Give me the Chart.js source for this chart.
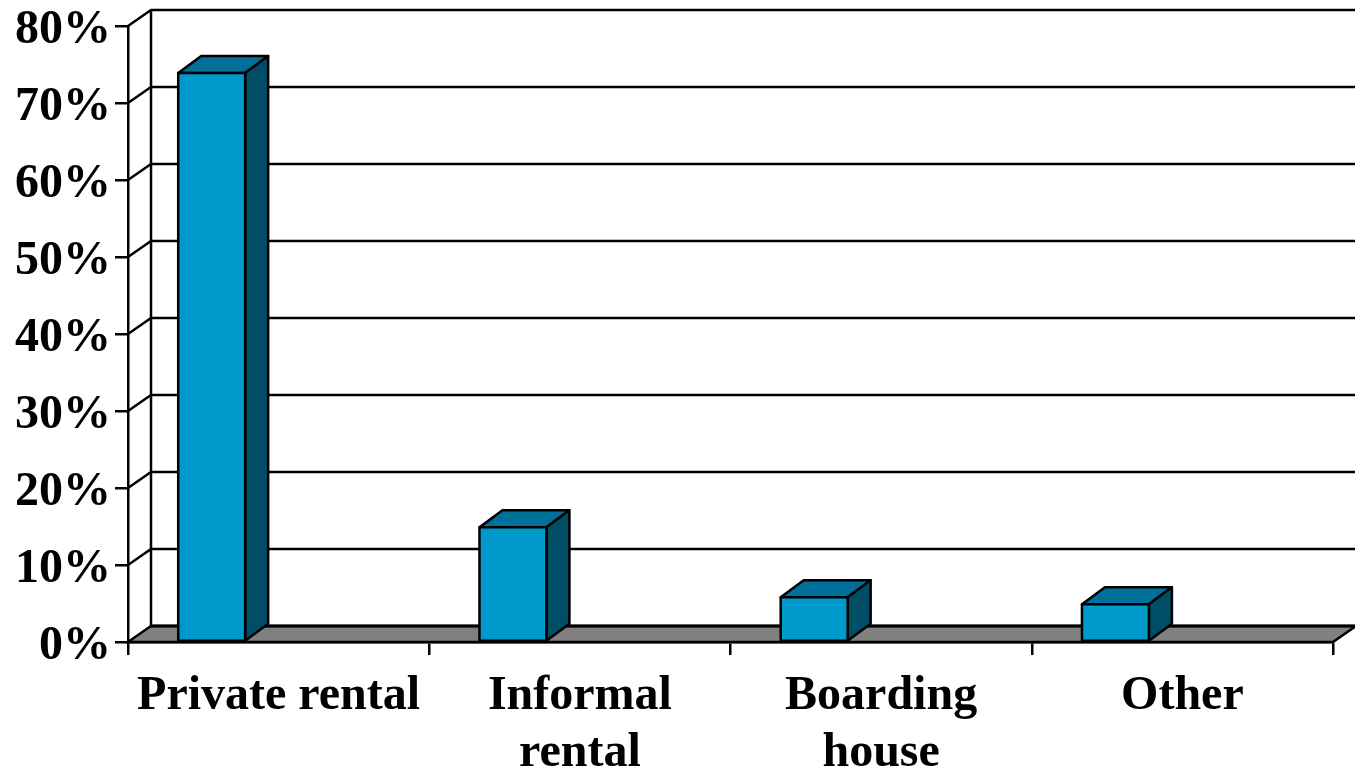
<!DOCTYPE html>
<html>
<head>
<meta charset="utf-8">
<title>Rental types</title>
<script src="https://cdn.jsdelivr.net/npm/chart.js@4"></script>
<style>
    html, body { margin: 0; padding: 0; background: #fff; overflow: hidden; }
    canvas { display: block; }
</style>
</head>
<body>
<canvas id="rental-chart" width="1355" height="771"></canvas>
<script>
var categories = [["Private rental"], ["Informal", "rental"], ["Boarding", "house"], ["Other"]];
var shareValues = [73.9, 14.9, 5.8, 4.9];
// the original has two empty series, they push the bars to the left of each slot
var emptySeries = [null, null, null, null];
var tickStep = 10;
var tickMax = 80;

var depthX = 23;
var depthY = -16;
var barDepthY = -17;
var lineW = 2.5;

// Back wall, side wall and floor
var wallPlugin = {
    id: "wall3d",
    beforeDraw: function (chart) {
        var ctx = chart.ctx;
        var x = chart.scales.x;
        var y = chart.scales.y;
        var base = y.getPixelForValue(0);

        ctx.save();
        ctx.strokeStyle = "#000";
        ctx.lineWidth = lineW;

        ctx.beginPath();
        ctx.moveTo(x.left, base);
        ctx.lineTo(x.left + depthX, base + depthY);
        ctx.lineTo(x.right + depthX, base + depthY);
        ctx.lineTo(x.right, base);
        ctx.closePath();
        ctx.fillStyle = "#808080";
        ctx.fill();
        ctx.stroke();

        ctx.beginPath();
        ctx.moveTo(x.left + depthX, base + depthY);
        ctx.lineTo(x.right + depthX, base + depthY);
        ctx.lineWidth = 3;
        ctx.stroke();
        ctx.lineWidth = lineW;

        ctx.beginPath();
        ctx.moveTo(x.left + depthX, base + depthY);
        ctx.lineTo(x.left + depthX, y.getPixelForValue(tickMax) + depthY);
        for (var v = tickStep; v <= tickMax; v += tickStep) {
            var py = y.getPixelForValue(v);
            ctx.moveTo(x.left, py);
            ctx.lineTo(x.left + depthX, py + depthY);
            ctx.lineTo(x.right + depthX, py + depthY);
        }
        ctx.stroke();
        ctx.restore();
    },
    // Top and side of every bar, the library fills the front afterwards
    beforeDatasetsDraw: function (chart) {
        var ctx = chart.ctx;
        var bars = chart.getDatasetMeta(0).data;

        ctx.save();
        ctx.strokeStyle = "#000";
        ctx.lineWidth = lineW;
        ctx.lineJoin = "round";
        bars.forEach(function (bar) {
            var left = bar.x - bar.width / 2;
            var right = bar.x + bar.width / 2;

            ctx.beginPath();
            ctx.moveTo(left, bar.y);
            ctx.lineTo(left + depthX, bar.y + barDepthY);
            ctx.lineTo(right + depthX, bar.y + barDepthY);
            ctx.lineTo(right, bar.y);
            ctx.closePath();
            ctx.fillStyle = "#006F99";
            ctx.fill();
            ctx.stroke();

            ctx.beginPath();
            ctx.moveTo(right, bar.y);
            ctx.lineTo(right + depthX, bar.y + barDepthY);
            ctx.lineTo(right + depthX, bar.base + barDepthY);
            ctx.lineTo(right, bar.base);
            ctx.closePath();
            ctx.fillStyle = "#004D66";
            ctx.fill();
            ctx.stroke();
        });
        ctx.restore();
    },
    // Outline of the front, centred on the bar edge like the other faces
    afterDatasetsDraw: function (chart) {
        var ctx = chart.ctx;
        var bars = chart.getDatasetMeta(0).data;

        ctx.save();
        ctx.strokeStyle = "#000";
        ctx.lineWidth = lineW;
        ctx.lineJoin = "round";
        bars.forEach(function (bar) {
            ctx.strokeRect(bar.x - bar.width / 2, bar.y, bar.width, bar.base - bar.y);
        });
        ctx.restore();
    }
};

var ctx = document.getElementById("rental-chart").getContext("2d");
var rentalChart = new Chart(ctx, {
    type: "bar",
    data: {
        labels: categories,
        datasets: [
            {
                label: "Share",
                data: shareValues,
                backgroundColor: "#0099CC",
                borderWidth: 0
            },
            { label: "Empty 1", data: emptySeries },
            { label: "Empty 2", data: emptySeries }
        ]
    },
    options: {
        responsive: false,
        animation: false,
        layout: { padding: { top: 26, right: 22, left: 0, bottom: 0 } },
        plugins: {
            legend: { display: false },
            tooltip: { enabled: false },
            title: { display: false }
        },
        datasets: {
            bar: { categoryPercentage: 2 / 3, barPercentage: 1 }
        },
        scales: {
            x: {
                grid: { drawOnChartArea: false, color: "#000", lineWidth: lineW, tickLength: 13 },
                border: { color: "#000", width: lineW },
                ticks: {
                    color: "#000",
                    autoSkip: false,
                    maxRotation: 0,
                    padding: 13,
                    font: { family: "'Liberation Serif'", size: 48, weight: "bold", lineHeight: 1.19 }
                },
                afterFit: function (scale) { scale.height = 129; scale.paddingLeft = 0; scale.paddingRight = 0; }
            },
            y: {
                min: 0,
                max: tickMax,
                grid: { drawOnChartArea: false, color: "#000", lineWidth: lineW, tickLength: 13 },
                border: { color: "#000", width: lineW },
                ticks: {
                    stepSize: tickStep,
                    color: "#000",
                    padding: 4,
                    labelOffset: 5,
                    font: { family: "'Liberation Serif'", size: 48, weight: "bold" },
                    callback: function (value) { return value + "%"; }
                },
                afterFit: function (scale) { scale.width = 128; scale.paddingTop = 0; scale.paddingBottom = 0; }
            }
        }
    },
    plugins: [wallPlugin]
});
</script>
</body>
</html>
